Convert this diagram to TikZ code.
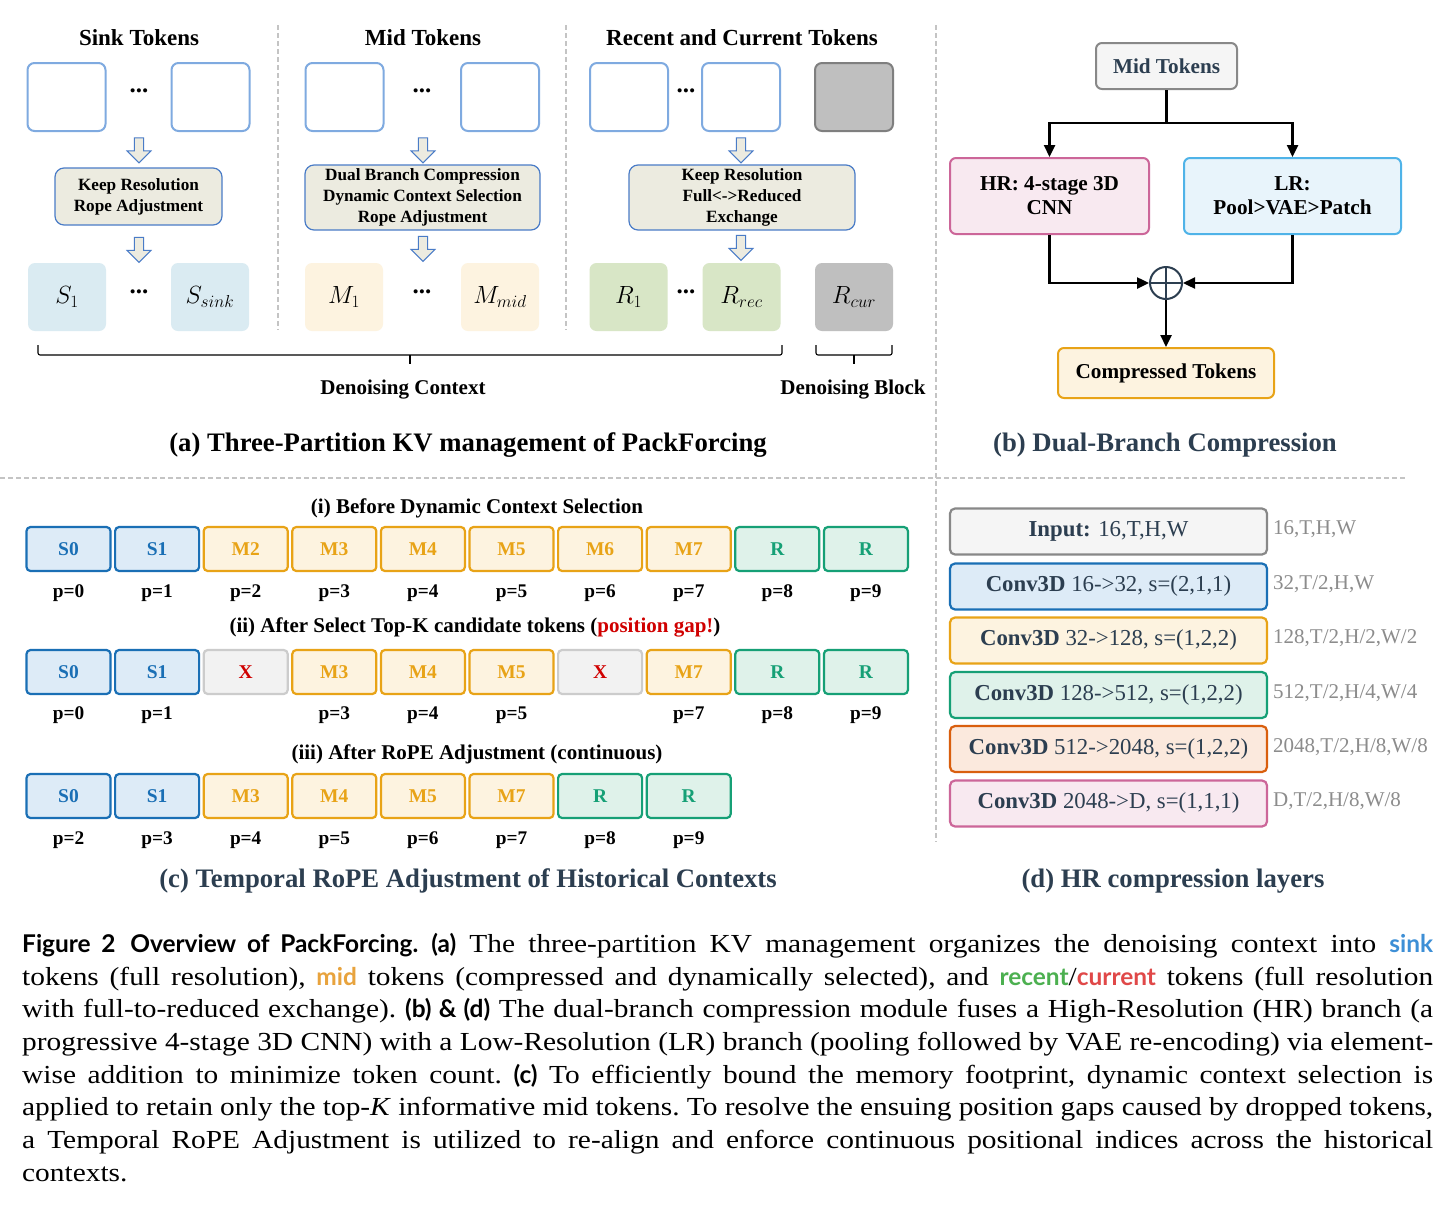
\documentclass[tikz,border=0pt]{standalone}
\usepackage{fontspec}
\setmainfont{Liberation Serif}
\newfontfamily\capserif[FakeStretch=1.13]{Liberation Serif}
\newfontfamily\capsans[Scale=0.94]{Lato}
\usetikzlibrary{positioning,arrows.meta,shapes.arrows}

\definecolor{tokblue}{HTML}{7FAAE0}
\definecolor{procfill}{HTML}{ECEBE0}
\definecolor{procdraw}{HTML}{4A7CC7}
\definecolor{sinkfill}{HTML}{DAEBF2}
\definecolor{midfill}{HTML}{FDF3E0}
\definecolor{recfill}{HTML}{D8E6C6}
\definecolor{curfill}{HTML}{BFBFBF}
\definecolor{curdraw}{HTML}{7F7F7F}
\definecolor{slate}{HTML}{2C3E50}
\definecolor{sepgray}{HTML}{C4C4C4}
\definecolor{cblue}{HTML}{1A6FB5}
\definecolor{cbluefill}{HTML}{DDEBF7}
\definecolor{corange}{HTML}{E8A317}
\definecolor{cgreen}{HTML}{16A076}
\definecolor{cgreenfill}{HTML}{DFF2EA}
\definecolor{cxfill}{HTML}{F2F2F2}
\definecolor{cxdraw}{HTML}{CCCCCC}
\definecolor{cred}{HTML}{D00000}
\definecolor{cdeep}{HTML}{D95F0E}
\definecolor{cdeepfill}{HTML}{FBE9DD}
\definecolor{cpink}{HTML}{CC6699}
\definecolor{cpinkfill}{HTML}{F8E9F0}
\definecolor{clrdraw}{HTML}{4FB3E8}
\definecolor{clrfill}{HTML}{E8F4FB}
\definecolor{cgray}{HTML}{888888}
\definecolor{cgrayfill}{HTML}{F5F5F5}
\definecolor{sidegray}{HTML}{8C8C8C}
\definecolor{capblue}{HTML}{3D8FD6}
\definecolor{caporange}{HTML}{E8A33D}
\definecolor{capgreen}{HTML}{4CB050}
\definecolor{capred}{HTML}{E04848}

\tikzset{
  sep/.style={draw=sepgray, line width=1.4pt, dash pattern=on 5pt off 3pt},
  headline/.style={font=\fontsize{23}{26}\selectfont\bfseries},
  subtitle/.style={font=\fontsize{26.7}{30}\selectfont\bfseries},
  inbox/.style={draw=tokblue, line width=2pt, rounded corners=7pt, fill=white,
    minimum width=78pt, minimum height=68pt},
  outbox/.style={rounded corners=7pt, minimum width=78pt, minimum height=68pt,
    font=\fontsize{23}{26}\selectfont},
  proc/.style={draw=procdraw, line width=1.2pt, fill=procfill, rounded corners=9pt,
    align=center, font=\fontsize{17.2}{21}\selectfont\bfseries},
  blockarrow/.style={single arrow, draw=procdraw, fill=procfill, line width=1pt,
    shape border rotate=270, minimum height=25pt, minimum width=24pt,
    single arrow head extend=6pt},
  dots/.style={font=\fontsize{25}{26}\selectfont\bfseries},
  flowbox/.style={rounded corners=6pt, line width=2pt, align=center,
    font=\fontsize{21.2}{24}\selectfont\bfseries},
  flow/.style={line width=2.4pt, -{Triangle[length=12pt,width=11pt]}},
  ctok/.style={rounded corners=4pt, line width=2.2pt, minimum width=84pt,
    minimum height=44pt, font=\fontsize{19.5}{22}\selectfont\bfseries},
  sinktok/.style={ctok, draw=cblue, fill=cbluefill, text=cblue},
  midtok/.style={ctok, draw=corange, fill=midfill, text=corange},
  rectok/.style={ctok, draw=cgreen, fill=cgreenfill, text=cgreen},
  droptok/.style={ctok, draw=cxdraw, fill=cxfill, text=cred},
  plab/.style={font=\fontsize{19.3}{22}\selectfont\bfseries},
  rowtitle/.style={font=\fontsize{21}{24}\selectfont\bfseries},
  layer/.style={rounded corners=5pt, line width=2.2pt, minimum width=317pt,
    minimum height=46pt, text=slate, font=\fontsize{22.8}{26}\selectfont},
  shape lab/.style={anchor=west, inner sep=0pt, text=sidegray, font=\fontsize{21}{24}\selectfont}
}

\begin{document}
\begin{tikzpicture}[x=1pt,y=-1pt]
  \fill[white] (0,0) rectangle (1453,1205);
  \useasboundingbox (0,0) rectangle (1453,1205);

  % separators
  \draw[sep] (278,25) -- (278,330);
  \draw[sep] (566,25) -- (566,330);
  \draw[sep] (936,25) -- (936,842);
  \draw[sep] (0,478) -- (1405,478);

  % (a) three partitions
  \node[headline] (tSink) at (139,38) {Sink Tokens};
  \node[headline] (tMid) at (423,38) {Mid Tokens};
  \node[headline] (tRec) at (742,38) {Recent and Current Tokens};

  \node[inbox] (s1in) at (66.5,97) {};
  \node[inbox] (s2in) at (210.5,97) {};
  \node[inbox] (m1in) at (344.5,97) {};
  \node[inbox] (m2in) at (500,97) {};
  \node[inbox] (r1in) at (629,97) {};
  \node[inbox] (r2in) at (741,97) {};
  \node[inbox, draw=curdraw, fill=curfill] (cin) at (854,97) {};
  \node[dots] at (139,91) {...};
  \node[dots] at (422,91) {...};
  \node[dots] at (686,91) {...};

  \node[blockarrow] (sA1) at (139,148) {};
  \node[blockarrow] (mA1) at (423,148) {};
  \node[blockarrow] (rA1) at (741,148) {};

  \node[proc, minimum width=167pt, minimum height=57pt] (sProc) at (138.5,196.5)
    {Keep Resolution\\Rope Adjustment};
  \node[proc, minimum width=235pt, minimum height=65pt] (mProc) at (422.5,197.5)
    {Dual Branch Compression\\Dynamic Context Selection\\Rope Adjustment};
  \node[proc, minimum width=226pt, minimum height=65pt] (rProc) at (742,197.5)
    {Keep Resolution\\Full<->Reduced\\Exchange};

  \node[blockarrow] (sA2) at (139,247.5) {};
  \node[blockarrow] (mA2) at (423,246.5) {};
  \node[blockarrow] (rA2) at (741,245.5) {};

  \node[outbox, fill=sinkfill] (s1out) at (67,297) {$S_1$};
  \node[outbox, fill=sinkfill] (s2out) at (210,297) {$S_{sink}$};
  \node[outbox, fill=midfill] (m1out) at (344,297) {$M_1$};
  \node[outbox, fill=midfill] (m2out) at (500,297) {$M_{mid}$};
  \node[outbox, fill=recfill] (r1out) at (628.5,297) {$R_1$};
  \node[outbox, fill=recfill] (r2out) at (741.5,297) {$R_{rec}$};
  \node[outbox, fill=curfill] (cout) at (854,297) {$R_{cur}$};
  \node[dots] at (139,292) {...};
  \node[dots] at (422,292) {...};
  \node[dots] at (686,292) {...};

  % brackets under the tokens
  \draw[line width=1.1pt, rounded corners=2pt] (38,345) -- (38,355) -- (782,355) -- (782,345);
  \draw[line width=1.1pt] (410,355) -- (410,364);
  \draw[line width=1.1pt, rounded corners=2pt] (816,345) -- (816,355) -- (892,355) -- (892,345);
  \draw[line width=1.1pt] (854,355) -- (854,364);
  \node[font=\fontsize{21}{24}\selectfont\bfseries] (ctxLab) at (403,390) {Denoising Context};
  \node[font=\fontsize{21}{24}\selectfont\bfseries] (blkLab) at (853,390) {Denoising Block};

  \node[subtitle] (capA) at (468,445) {(a) Three-Partition KV management of PackForcing};

  % (b) dual-branch compression
  \node[flowbox, draw=cgray, fill=cgrayfill, text=slate, minimum width=141pt,
    minimum height=46pt] (midIn) at (1166.5,66) {Mid Tokens};
  \node[flowbox, draw=cpink, fill=cpinkfill, minimum width=199pt,
    minimum height=76pt] (hr) at (1049.5,196) {HR: 4-stage 3D\\CNN};
  \node[flowbox, draw=clrdraw, fill=clrfill, minimum width=217pt,
    minimum height=76pt] (lr) at (1292.5,196) {LR:\\Pool>VAE>Patch};
  \node[circle, draw=slate, line width=2pt, minimum size=32pt, fill=white] (plus) at (1166,283) {};
  \draw[slate, line width=1.6pt] (plus.north) -- (plus.south) (plus.west) -- (plus.east);
  \node[flowbox, draw=corange, fill=midfill, minimum width=216pt,
    minimum height=50pt] (comp) at (1166,373) {Compressed Tokens};

  \draw[line width=2.4pt] (midIn.south) -- ++(0,33) coordinate (split);
  \draw[flow] (split) -| (hr.north);
  \draw[flow] (split) -| (lr.north);
  \draw[flow] (hr.south) |- (plus.west);
  \draw[flow] (lr.south) |- (plus.east);
  \draw[flow] (plus.south) -- (comp.north);

  \node[subtitle, text=slate] (capB) at (1165,445) {(b) Dual-Branch Compression};

  % (c) temporal rope adjustment
  \node[rowtitle] (rowI) at (477,508) {(i) Before Dynamic Context Selection};
  \foreach \lab/\sty [count=\i from 0] in {S0/sinktok,S1/sinktok,M2/midtok,M3/midtok,
      M4/midtok,M5/midtok,M6/midtok,M7/midtok,R/rectok,R/rectok}
  {
    \node[\sty] (ra\i) at ({68.5+88.6*\i},549) {\lab};
    \node[plab] (pa\i) at ({68.5+88.6*\i},593) {p=\i};
  }

  \node[rowtitle] (rowII) at (475,627)
    {(ii) After Select Top-K candidate tokens ({\color{cred}position gap!})};
  \foreach \lab/\sty [count=\i from 0] in {S0/sinktok,S1/sinktok,X/droptok,M3/midtok,
      M4/midtok,M5/midtok,X/droptok,M7/midtok,R/rectok,R/rectok}
    \node[\sty] (rb\i) at ({68.5+88.6*\i},672) {\lab};
  \foreach \i in {0,1,3,4,5,7,8,9}
    \node[plab] (pb\i) at ({68.5+88.6*\i},715) {p=\i};

  \node[rowtitle] (rowIII) at (477,754) {(iii) After RoPE Adjustment (continuous)};
  \foreach \lab/\sty [count=\i from 0] in {S0/sinktok,S1/sinktok,M3/midtok,M4/midtok,
      M5/midtok,M7/midtok,R/rectok,R/rectok}
  {
    \node[\sty] (rc\i) at ({68.5+88.6*\i},796) {\lab};
    \pgfmathtruncatemacro\pos{\i+2}
    \node[plab] (pc\i) at ({68.5+88.6*\i},840) {p=\pos};
  }

  \node[subtitle, text=slate] (capC) at (468,881) {(c) Temporal RoPE Adjustment of Historical Contexts};

  % (d) hr compression layers
  \node[layer, draw=cgray, fill=cgrayfill] (l0) at (1108.5,531.5) {\textbf{Input:} 16,T,H,W};
  \node[layer, draw=cblue, fill=cbluefill] (l1) at (1108.5,586.5) {\textbf{Conv3D} 16->32, s=(2,1,1)};
  \node[layer, draw=corange, fill=midfill] (l2) at (1108.5,640.5) {\textbf{Conv3D} 32->128, s=(1,2,2)};
  \node[layer, draw=cgreen, fill=cgreenfill] (l3) at (1108.5,695) {\textbf{Conv3D} 128->512, s=(1,2,2)};
  \node[layer, draw=cdeep, fill=cdeepfill] (l4) at (1108.5,749) {\textbf{Conv3D} 512->2048, s=(1,2,2)};
  \node[layer, draw=cpink, fill=cpinkfill] (l5) at (1108.5,803.5) {\textbf{Conv3D} 2048->D, s=(1,1,1)};
  \node[shape lab] at (1273,529) {16,T,H,W};
  \node[shape lab] at (1273,584) {32,T/2,H,W};
  \node[shape lab] at (1273,638) {128,T/2,H/2,W/2};
  \node[shape lab] at (1273,693) {512,T/2,H/4,W/4};
  \node[shape lab] at (1273,747) {2048,T/2,H/8,W/8};
  \node[shape lab] at (1273,801) {D,T/2,H/8,W/8};

  \node[subtitle, text=slate] (capD) at (1173,881) {(d) HR compression layers};

  % figure caption
  \node[anchor=north west, inner sep=0pt, text width=1411pt, align=justify,
    font=\capserif\fontsize{26}{32.7}\selectfont] (caption) at (22,933)
  {\frenchspacing\hyphenpenalty=10000\exhyphenpenalty=10000
   {\capsans\bfseries Figure 2\hspace{0.6em}Overview of PackForcing.}\hspace{0.5em}{\capsans\bfseries (a)} The three-partition KV management organizes the denoising context into {\capsans\bfseries\color{capblue}sink}\linebreak
   tokens (full resolution), {\capsans\bfseries\color{caporange}mid} tokens (compressed and dynamically selected), and {\capsans\bfseries\color{capgreen}recent}/{\capsans\bfseries\color{capred}current} tokens (full resolution\linebreak
   with full-to-reduced exchange). {\capsans\bfseries (b) \& (d)} The dual-branch compression module fuses a High-Resolution (HR) branch (a\linebreak
   progressive 4-stage 3D CNN) with a Low-Resolution (LR) branch (pooling followed by VAE re-encoding) via element-\linebreak
   wise addition to minimize token count. {\capsans\bfseries (c)} To efficiently bound the memory footprint, dynamic context selection is\linebreak
   applied to retain only the top-\textit{K} informative mid tokens. To resolve the ensuing position gaps caused by dropped tokens,\linebreak
   a Temporal RoPE Adjustment is utilized to re-align and enforce continuous positional indices across the historical\linebreak
   contexts.};
\end{tikzpicture}
\end{document}
